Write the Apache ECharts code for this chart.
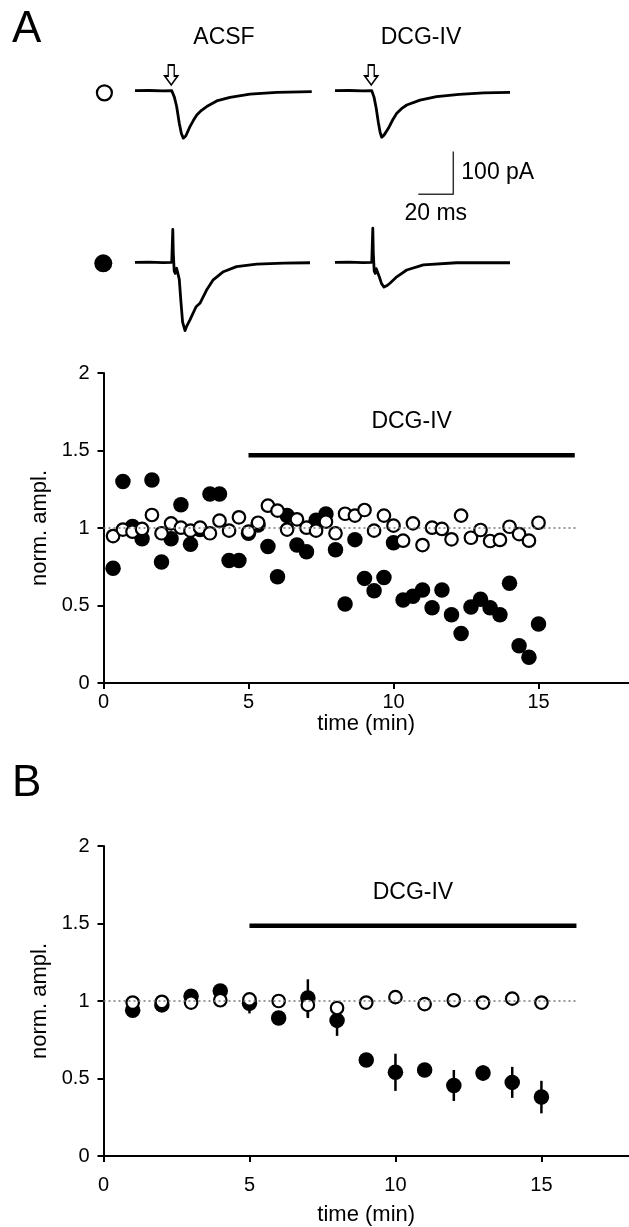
<!DOCTYPE html>
<html>
<head>
<meta charset="utf-8">
<script src="https://cdn.jsdelivr.net/npm/echarts@6/dist/echarts.min.js"></script>
<style>html,body{margin:0;padding:0;background:#fff}#c{width:629px;height:1227px}</style>
</head>
<body>
<div id="c"></div>
<script>
// ---------- data ----------
// example traces (time ms, current pA)
const traceAcsfOpen = [[0,0],[8,0.5],[16,-0.5],[21,0],[22.5,-15],[23.8,-37],[25.3,-76],[26.5,-100],[27.6,-111],[29,-106],[31.4,-84],[33.3,-70],[35.3,-57],[38,-46],[41,-37],[46.7,-24],[54.3,-15.5],[65.7,-8],[81,-4],[101,-2]];
const traceDcgOpen = [[0,0],[8,0.5],[16,-0.5],[21,0],[22.3,-15],[23.5,-40],[24.8,-75],[25.8,-98],[26.7,-109],[28,-104],[30.5,-88],[33,-68],[35.3,-53],[38,-42],[41,-33.5],[48.6,-22],[58,-14],[71,-8.4],[85,-5],[100,-3.7]];
const traceAcsfFilled = [[0,0],[8,0.5],[16,-0.5],[21,0],[21.3,40],[21.6,77],[21.9,20],[22.4,-20],[23,-26],[23.8,-14],[24.6,-16],[25.3,-40],[26.2,-90],[27.2,-140],[28.6,-160],[29.5,-150],[31.4,-135],[34.9,-104],[37.1,-96],[40.9,-65],[44.7,-41],[50.5,-22],[58,-10],[69.5,-4],[85,-2],[100,-1]];
const traceDcgFilled = [[0,0],[8,0.5],[16,-0.5],[21,0],[21.3,40],[21.6,80],[21.9,20],[22.4,-20],[23,-26],[23.6,-15],[24.4,-18],[25.4,-35],[26.6,-50],[28,-58],[29.5,-55],[31.4,-49],[35.3,-34],[41,-18],[50.5,-6],[69.5,-1],[100,-1]];
const stimTime = [20.7];
const scaleBar = [[0,0],[20,0],[20,100]];
const scaleLabels = ['100 pA','20 ms'];

// panel A: single experiment
const timeA = [0.33,0.67,1.0,1.33,1.67,2.0,2.33,2.67,3.0,3.33,3.67,4.0,4.33,4.67,5.0,5.33,5.67,6.0,6.33,6.67,7.0,7.33,7.67,8.0,8.33,8.67,9.0,9.33,9.67,10.0,10.33,10.67,11.0,11.33,11.67,12.0,12.33,12.67,13.0,13.33,13.67,14.0,14.33,14.67,15.0];
const filledA = [0.74,1.30,1.01,0.93,1.31,0.78,0.93,1.15,0.895,0.99,1.22,1.22,0.79,0.79,0.966,1.02,0.88,0.686,1.08,0.89,0.847,1.05,1.09,0.86,0.51,0.925,0.675,0.595,0.68,0.905,0.535,0.56,0.60,0.486,0.60,0.44,0.32,0.49,0.54,0.486,0.44,0.643,0.24,0.166,0.38];
const openA = [0.948,0.99,0.976,0.994,1.084,0.966,1.03,1.002,0.983,1.002,0.966,1.047,0.983,1.069,0.976,1.034,1.144,1.112,0.99,1.056,1.002,0.983,1.041,0.966,1.092,1.08,1.116,0.983,1.08,1.015,0.918,1.03,0.89,1.002,0.994,0.927,1.08,0.937,0.987,0.916,0.923,1.008,0.961,0.918,1.034];

// panel B: averages
const timeB = [1,2,3,4,5,6,7,8,9,10,11,12,13,14,15];
const filledB = [0.94,0.975,1.03,1.065,0.985,0.89,1.02,0.875,0.62,0.54,0.555,0.455,0.535,0.475,0.38];
const filledErrB = [0.03,0.02,0.03,0.03,0.065,0.03,0.12,0.1,0.03,0.12,0.03,0.1,0.05,0.1,0.105];
const openB = [0.99,0.995,0.99,1.005,1.01,1.0,0.975,0.955,0.99,1.025,0.98,1.005,0.99,1.015,0.99];
const openErrB = [0.02,0.02,0.02,0.02,0.03,0.02,0.085,0.03,0.02,0.02,0.02,0.02,0.02,0.02,0.02];

const drugLabel = 'DCG-IV';
const drugBarA = [[5,1.47],[16.25,1.47]];
const drugBarB = [[5,1.485],[16.2,1.485]];
const refLineA = [[0,1],[16.35,1]];
const refLineB = [[0,1],[16.25,1]];
const xTicks = [0,5,10,15];
const yTicks = [0,0.5,1,1.5,2];

// ---------- chart ----------
const FONT = 'Liberation Sans, Arial, Helvetica, sans-serif';
const chart = echarts.init(document.getElementById('c'), null, {renderer:'canvas'});

const traceGrid = (left, top) => ({left, top, width:176.75, height:111, outerBoundsMode:'none'});
const hiddenX = (gi) => ({type:'value', gridIndex:gi, min:0, max:101, show:false});
const hiddenY = (gi) => ({type:'value', gridIndex:gi, min:-170, max:90, show:false});

function plotX(gi, max, labelMargin, nameGap) {
  return {type:'value', gridIndex:gi, min:0, max:max,
    axisLine:{onZero:false, lineStyle:{color:'#000', width:2}},
    axisTick:{customValues:xTicks, length:6, lineStyle:{color:'#000', width:2}},
    axisLabel:{customValues:xTicks, color:'#000', fontSize:20, fontFamily:FONT, margin:labelMargin},
    splitLine:{show:false},
    name:'time (min)', nameLocation:'middle', nameGap:nameGap,
    nameTextStyle:{color:'#000', fontSize:22, fontFamily:FONT}};
}
function plotY(gi) {
  return {type:'value', gridIndex:gi, min:yTicks[0], max:yTicks[yTicks.length-1], interval:0.5,
    axisLine:{onZero:false, lineStyle:{color:'#000', width:2}},
    axisTick:{length:6, lineStyle:{color:'#000', width:2}},
    axisLabel:{color:'#000', fontSize:20, fontFamily:FONT, margin:14},
    splitLine:{show:false},
    name:'norm. ampl.', nameLocation:'middle', nameGap:52,
    nameTextStyle:{color:'#000', fontSize:22, fontFamily:FONT}};
}

const traceLine = (data, xi) => ({type:'line', xAxisIndex:xi, yAxisIndex:xi, data, showSymbol:false, symbol:'none',
  lineStyle:{color:'#000', width:2.8, join:'round'}, silent:true, animation:false});

const arrowPath = 'path://M3.5,0 L9.5,0 L9.5,11 L13,11 L6.5,20 L0,11 L3.5,11 Z';
const arrowSeries = (xi) => ({type:'scatter', xAxisIndex:xi, yAxisIndex:xi, data:stimTime.map(t=>[t,37]),
  symbol:arrowPath, symbolSize:[13,20], itemStyle:{color:'#fff', borderColor:'#000', borderWidth:1.6, opacity:1}, silent:true, animation:false});

const openStyle = {color:'#fff', borderColor:'#000', borderWidth:2.2, opacity:1};
const filledStyle = {color:'#000', opacity:1};

function panelSeries(gi, times, filled, open, bar, ref, fErr, oErr) {
  const s = [];
  s.push({type:'line', xAxisIndex:gi, yAxisIndex:gi, data:ref, symbol:'none',
    lineStyle:{color:'#777', width:1.5, type:[2,3]}, silent:true, animation:false});
  s.push({type:'line', xAxisIndex:gi, yAxisIndex:gi, data:bar, symbol:'none',
    lineStyle:{color:'#000', width:4.5, cap:'butt'}, silent:true, animation:false});
  s.push({type:'scatter', xAxisIndex:gi, yAxisIndex:gi,
    data:[[(bar[0][0]+bar[1][0])/2, bar[0][1]]], symbolSize:0, itemStyle:{opacity:1},
    label:{show:true, position:'top', distance:22, formatter:drugLabel, color:'#000', fontSize:23, fontFamily:FONT},
    silent:true, animation:false});
  const errSeries = (vals, errs) => ({type:'custom', xAxisIndex:gi, yAxisIndex:gi,
    data:times.map((t,i)=>[t, vals[i], errs[i]]),
    renderItem:(params, api) => {
      const x = api.value(0), y = api.value(1), e = api.value(2);
      const p1 = api.coord([x, y+e]), p2 = api.coord([x, y-e]);
      return {type:'line', shape:{x1:p1[0], y1:p1[1], x2:p2[0], y2:p2[1]}, style:{stroke:'#000', lineWidth:2.5}};
    }, silent:true, animation:false});
  if (fErr) s.push(errSeries(filled, fErr));
  s.push({type:'scatter', name:'filled', xAxisIndex:gi, yAxisIndex:gi, data:times.map((t,i)=>[t, filled[i]]),
    symbol:'circle', symbolSize:15.5, itemStyle:filledStyle, silent:true, animation:false});
  if (oErr) s.push(errSeries(open, oErr));
  s.push({type:'scatter', name:'open', xAxisIndex:gi, yAxisIndex:gi, data:times.map((t,i)=>[t, open[i]]),
    symbol:'circle', symbolSize:12.5, itemStyle:openStyle, silent:true, animation:false});
  return s;
}

const textStyle = (text, x, y, size, align) => ({type:'text', x, y, silent:true,
  style:{text, fill:'#000', font:'normal ' + size + 'px ' + FONT, textAlign:align || 'center', textVerticalAlign:'middle'}});

const option = {
  backgroundColor:'#fff',
  animation:false,
  grid:[
    traceGrid(135, 52.3), traceGrid(335, 52.3), traceGrid(135, 223.9), traceGrid(335, 223.9),
    {left:418.3, top:151.6, width:35, height:42.7, outerBoundsMode:'none'},
    {left:103.5, top:373, width:525.5, height:310, outerBoundsMode:'none'},
    {left:103.5, top:846, width:525.5, height:310, outerBoundsMode:'none'}
  ],
  xAxis:[hiddenX(0), hiddenX(1), hiddenX(2), hiddenX(3),
    {type:'value', gridIndex:4, min:0, max:20, show:false},
    plotX(5, 18.12, 9, 22), plotX(6, 18, 19, 48)],
  yAxis:[hiddenY(0), hiddenY(1), hiddenY(2), hiddenY(3),
    {type:'value', gridIndex:4, min:0, max:100, show:false},
    plotY(5), plotY(6)],
  legend:[
    {data:['open'], left:95.8, top:84.2, padding:0, itemWidth:15, itemHeight:15, icon:'circle',
      formatter:()=>'', selectedMode:false, itemStyle:{color:'#fff', borderColor:'#000', borderWidth:2.2}},
    {data:['filled'], left:94.3, top:254.3, padding:0, itemWidth:18, itemHeight:18, icon:'circle',
      formatter:()=>'', selectedMode:false, itemStyle:{color:'#000'}}
  ],
  graphic:[
    textStyle('A', 12, 30, 44, 'left'),
    textStyle('B', 12, 784, 44, 'left'),
    textStyle('ACSF', 224, 38, 23),
    textStyle(drugLabel, 421, 38, 23)
  ],
  series:[
    traceLine(traceAcsfOpen, 0), traceLine(traceDcgOpen, 1),
    traceLine(traceAcsfFilled, 2), traceLine(traceDcgFilled, 3),
    arrowSeries(0), arrowSeries(1),
    {type:'line', xAxisIndex:4, yAxisIndex:4, data:scaleBar, symbol:'none', lineStyle:{color:'#333', width:1.5}, silent:true},
    {type:'scatter', xAxisIndex:4, yAxisIndex:4, data:[[20,50]], symbolSize:0, itemStyle:{opacity:1},
      label:{show:true, position:'right', distance:8, formatter:scaleLabels[0], color:'#000', fontSize:23, fontFamily:FONT}},
    {type:'scatter', xAxisIndex:4, yAxisIndex:4, data:[[10,0]], symbolSize:0, itemStyle:{opacity:1},
      label:{show:true, position:'bottom', distance:8, formatter:scaleLabels[1], color:'#000', fontSize:23, fontFamily:FONT}},
    ...panelSeries(5, timeA, filledA, openA, drugBarA, refLineA, null, null),
    ...panelSeries(6, timeB, filledB, openB, drugBarB, refLineB, filledErrB, openErrB)
  ]
};
chart.setOption(option);
</script>
</body>
</html>
